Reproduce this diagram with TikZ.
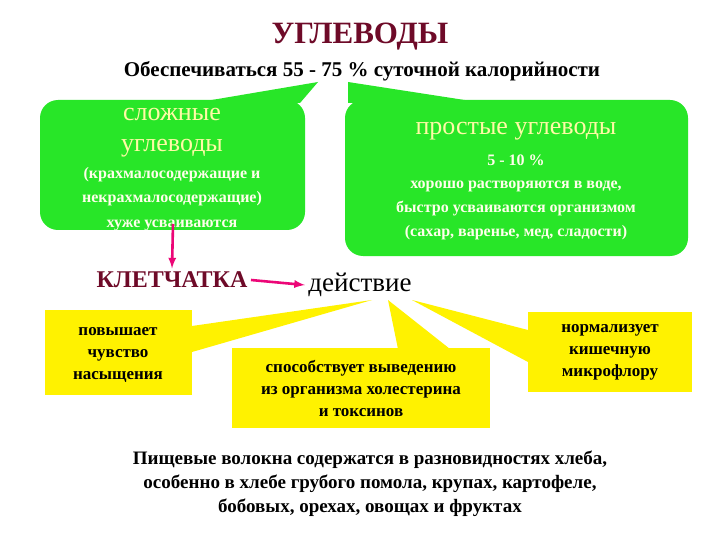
\documentclass[tikz,border=0pt]{standalone}
\usepackage{fontspec}
\setmainfont{Liberation Serif}
\begin{document}
\begin{tikzpicture}[x=1pt,y=-1pt,
  lt/.style={text=yellow!35!white, font=\fontsize{26}{28}\selectfont},
  bw/.style={text=white!92!yellow, font=\bfseries\fontsize{16}{18}\selectfont},
  bk/.style={font=\bfseries\fontsize{17}{22}\selectfont, align=center},
  pk/.style={draw=magenta!80!red, line width=2.6pt, -latex}]
\definecolor{dred}{RGB}{110,10,40}
\definecolor{grn}{RGB}{40,230,40}
\useasboundingbox (0,0) rectangle (720,540);
\fill[white] (0,0) rectangle (720,540);
\node[font=\bfseries\fontsize{31}{33}\selectfont, text=dred] (t) at (360,37) {УГЛЕВОДЫ};
\node[font=\bfseries\fontsize{21}{23}\selectfont] (s) at (362,71) {Обеспечиваться 55 - 75 \% суточной калорийности};
% green boxes
\fill[grn] (194,103) -- (318,82) -- (300,103) -- cycle;
\fill[grn] (348,103) -- (348,82) -- (484,103) -- cycle;
\fill[grn, rounded corners=18pt] (40,100) rectangle (305,230);
\fill[grn, rounded corners=18pt] (345,100) rectangle (688,256);
\begin{scope}
\clip (40,100) rectangle (305,230);
\node[lt] (l1) at (172,115) {сложные};
\node[lt] (l2) at (172,148) {углеводы};
\node[bw] (l3) at (172,175) {(крахмалосодержащие и};
\node[bw] (l4) at (172,199) {некрахмалосодержащие)};
\node[bw] (l5) at (172,225) {хуже усваиваются};
\end{scope}
\node[lt] (r1) at (516,131) {простые углеводы};
\node[bw] (r2) at (516,160) {5 - 10 \%};
\node[bw] (r3) at (516,186) {хорошо растворяются в воде,};
\node[bw] (r4) at (516,209) {быстро усваиваются организмом};
\node[bw] (r5) at (516,233) {(сахар, варенье, мед, сладости)};
% kletchatka
\node[font=\bfseries\fontsize{24}{26}\selectfont, text=dred] (k) at (172,280) {КЛЕТЧАТКА};
\node[font=\fontsize{27}{29}\selectfont] (d) at (360,285) {действие};
\coordinate (a0) at (173,224);
\draw[pk] (a0) -- (k.north);
\draw[pk] (k.east) -- (d.west);
% yellow boxes
\fill[yellow] (372,300) -- (192,326) -- (192,352) -- cycle;
\fill[yellow] (388,300) -- (398,349) -- (450,349) -- cycle;
\fill[yellow] (412,300) -- (528,330) -- (528,362) -- cycle;
\fill[yellow] (45,310) rectangle (192,395);
\fill[yellow] (232,348) rectangle (490,428);
\fill[yellow] (528,312) rectangle (692,392);
\node[bk] (y1) at (118,355) {повышает\\чувство\\насыщения};
\node[bk] (y2) at (361,388) {способствует выведению\\из организма холестерина\\и токсинов};
\node[bk] (y3) at (610,352) {нормализует\\кишечную\\микрофлору};
\node[font=\bfseries\fontsize{19}{24}\selectfont, align=center] (b) at (370,484) {Пищевые волокна содержатся в разновидностях хлеба,\\особенно в хлебе грубого помола, крупах, картофеле,\\бобовых, орехах, овощах и фруктах};
\end{tikzpicture}
\end{document}
